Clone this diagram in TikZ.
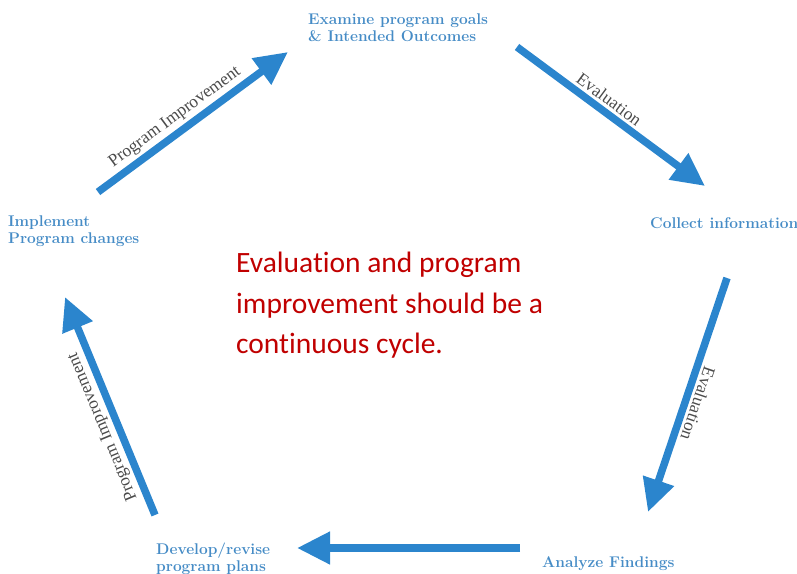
\documentclass[tikz,border=0pt]{standalone}
\usepackage{fontspec}
\newfontfamily\notefont[Ligatures=NoCommon]{Carlito}
\newfontfamily\tagfont{Liberation Serif}
\usetikzlibrary{arrows.meta}
\definecolor{arrowblue}{RGB}{43,133,205}
\definecolor{labelblue}{RGB}{70,140,198}
\definecolor{notered}{RGB}{192,0,0}
\definecolor{taggrey}{RGB}{75,75,75}
\begin{document}
\begin{tikzpicture}[x=1pt,y=-1pt,
  cyclearrow/.style={draw=arrowblue, line width=7.5pt,
    -{Triangle[length=33pt,width=31pt]}},
  steplabel/.style={text=labelblue, font=\fontsize{15.5}{17}\selectfont\bfseries,
    align=left, inner sep=0pt, anchor=north west},
  arrowtag/.style={text=taggrey, font=\tagfont\fontsize{17.5}{19}\selectfont,
    inner sep=1pt, sloped, allow upside down, above=2pt},
  notetext/.style={text=notered, font=\notefont\fontsize{29.5}{40.5}\selectfont,
    align=left, inner sep=0pt, anchor=north west}]
\useasboundingbox (0,0) rectangle (797,573);

% the five stages of the cycle
\node[steplabel] (goals)   at (308,14)  {Examine program goals\\\& Intended Outcomes};
\node[steplabel] (collect) at (650,217) {Collect information};
\node[steplabel] (analyze) at (542,556) {Analyze Findings};
\node[steplabel] (develop) at (156,543) {Develop/revise\\program plans};
\node[steplabel] (implement) at (8,216) {Implement\\Program changes};

% central note
\node[notetext] (note) at (236,252)
  {Evaluation and program\\improvement should be a\\continuous cycle.};

% arrow end points
\coordinate (a1s) at (98,192);  \coordinate (a1e) at (288,52);
\coordinate (a2s) at (517,47);  \coordinate (a2e) at (705,186);
\coordinate (a3s) at (727,278); \coordinate (a3e) at (648,512);
\coordinate (a4s) at (520,548); \coordinate (a4e) at (297,548);
\coordinate (a5s) at (155,515); \coordinate (a5e) at (65,297);

% arrows of the cycle
\draw[cyclearrow] (a1s) -- node[arrowtag, pos=0.45] (t1) {Program Improvement} (a1e);
\draw[cyclearrow] (a2s) -- node[arrowtag, pos=0.45] (t2) {Evaluation} (a2e);
\draw[cyclearrow] (a3s) -- node[arrowtag, pos=0.52] (t3) {Evaluation} (a3e);
\draw[cyclearrow] (a4s) -- (a4e);
\draw[cyclearrow] (a5s) -- node[arrowtag, pos=0.43] (t5) {Program Improvement} (a5e);
\end{tikzpicture}
\end{document}
